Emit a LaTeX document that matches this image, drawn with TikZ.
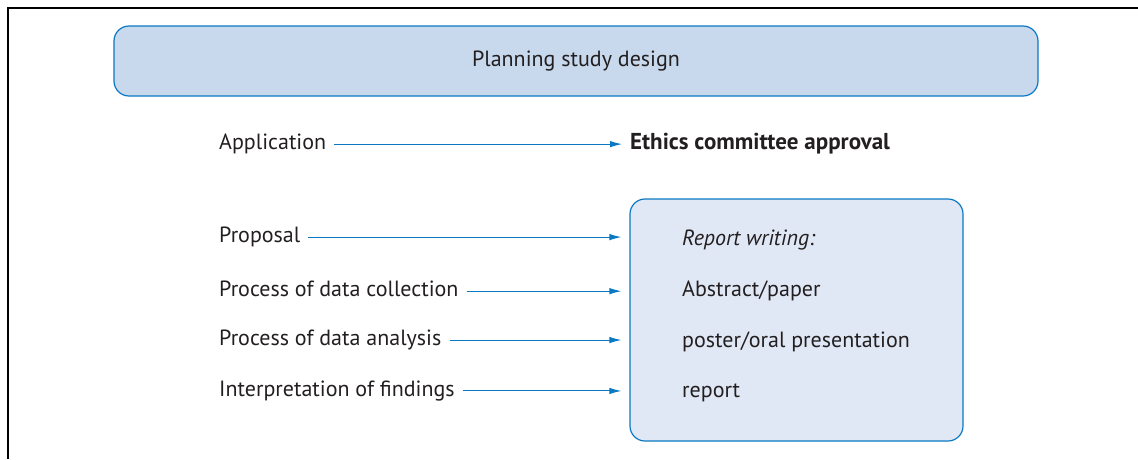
\documentclass[tikz,border=0pt]{standalone}
\usepackage{fontspec}
\setmainfont{PT Sans}
\usetikzlibrary{arrows.meta,positioning}
\definecolor{linkblue}{HTML}{0A78C2}
\definecolor{topfill}{HTML}{C8D9EE}
\definecolor{boxfill}{HTML}{E0E8F5}
\definecolor{inkgray}{HTML}{231F20}

\begin{document}
\begin{tikzpicture}[x=1pt, y=-1pt, >={Latex[length=12pt,width=6.5pt]},
    every node/.style={font=\fontsize{22}{26}\selectfont, text=inkgray},
    lbl/.style={anchor=west, inner sep=0pt},
    flow/.style={->, linkblue, line width=1pt, shorten <=8pt, shorten >=8pt},
    panel/.style={draw=linkblue, line width=1.2pt, rounded corners=15pt}]
    \useasboundingbox (0,0) rectangle (1138,459);

    % frame
    \draw[line width=1.3pt] (8,459) -- (8,8) -- (1138,8);

    % top panel
    \node[panel, fill=topfill, minimum width=924pt, minimum height=70pt] (plan) at (576,61) {Planning study design};

    % application -> approval
    \node[lbl] (app) at (219,144) {Application};
    \node[lbl, font=\fontsize{23}{27}\selectfont\bfseries] (eth) at (630,144) {Ethics committee approval};
    \draw[flow] ([yshift=3pt]app.mid east) -- ([yshift=3pt]app.mid east -| eth.west);

    % report writing box
    \node[panel, fill=boxfill, minimum width=333pt, minimum height=242pt] (rep) at (796.5,320) {};
    \node[lbl, font=\fontsize{22}{26}\selectfont\itshape] (rw) at (682,240) {Report writing:};
    \node[lbl] (abs) at (682,291) {Abstract/paper};
    \node[lbl] (pos) at (682,342) {poster/oral presentation};
    \node[lbl] (rpt) at (682,393) {report};

    % stages
    \node[lbl] (prop) at (219,237) {Proposal};
    \node[lbl] (coll) at (219,289) {Process of data collection};
    \node[lbl] (anal) at (219,340) {Process of data analysis};
    \node[lbl] (intp) at (219,391) {Interpretation of findings};

    \draw[flow] ([yshift=3pt]prop.mid east) -- ([yshift=3pt]prop.mid east -| rep.west);
    \draw[flow] ([yshift=3pt]coll.mid east) -- ([yshift=3pt]coll.mid east -| rep.west);
    \draw[flow] ([yshift=3pt]anal.mid east) -- ([yshift=3pt]anal.mid east -| rep.west);
    \draw[flow] ([yshift=3pt]intp.mid east) -- ([yshift=3pt]intp.mid east -| rep.west);
\end{tikzpicture}
\end{document}
